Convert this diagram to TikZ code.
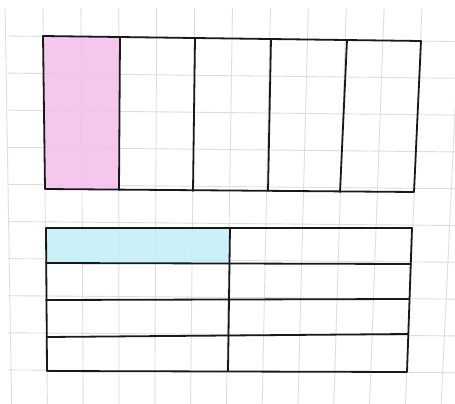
\documentclass[tikz,border=0pt]{standalone}
\usepackage{tikz}
\definecolor{gridgray}{RGB}{222,222,224}
\definecolor{penblack}{RGB}{25,25,28}
\definecolor{pinkfill}{RGB}{244,190,234}
\definecolor{cyanfill}{RGB}{196,238,246}
\tikzset{
  gridline/.style={draw=gridgray, line width=0.9pt},
  penline/.style={draw=penblack, line width=1.8pt, line cap=round, line join=round},
  shade/.style={fill opacity=0.85},
}
\begin{document}
\begin{tikzpicture}[x=1pt,y=-1pt]
\useasboundingbox (0,0) rectangle (455,404);
\fill[white] (0,0) rectangle (455,404);
\clip (0,0) rectangle (455,404);
% paper grid
\foreach \k in {-1,...,11} {
  \draw[gridline] ({43+37.9*\k},8) -- ({47.4+35.8*\k},404);
}
\foreach \j in {0,...,9} {
  \draw[gridline] (8,{36+37.1*\j}) -- (455,{41.5+36.8*\j});
}
% shading
\fill[pinkfill, shade] (43,36) -- (120,37) -- (119,190) -- (45,189) -- cycle;
\fill[cyanfill, shade] (46,228) -- (230,228) -- (230,263) -- (46,263) -- cycle;
% top rectangle
\coordinate (tTL) at (43,36);
\coordinate (tTR) at (421,41);
\coordinate (tBR) at (414,192);
\coordinate (tBL) at (45,189);
\draw[penline] (tTL) -- (tTR) -- (tBR) -- (tBL) -- cycle;
\draw[penline] (120,37) -- (119,190);
\draw[penline] (195,38) -- (193,191);
\draw[penline] (271,39) -- (268,191);
\draw[penline] (347,40) -- (340,192);
% bottom rectangle
\coordinate (bTL) at (46,228);
\coordinate (bTR) at (412,228);
\coordinate (bBR) at (407,372);
\coordinate (bBL) at (47,371);
\draw[penline] (bTL) -- (bTR) -- (bBR) -- (bBL) -- cycle;
\draw[penline] (230,228) -- (228,371);
\draw[penline] (46,263) -- (411,264);
\draw[penline] (46,300) -- (409,299);
\draw[penline] (47,337) -- (408,334);
\end{tikzpicture}
\end{document}
